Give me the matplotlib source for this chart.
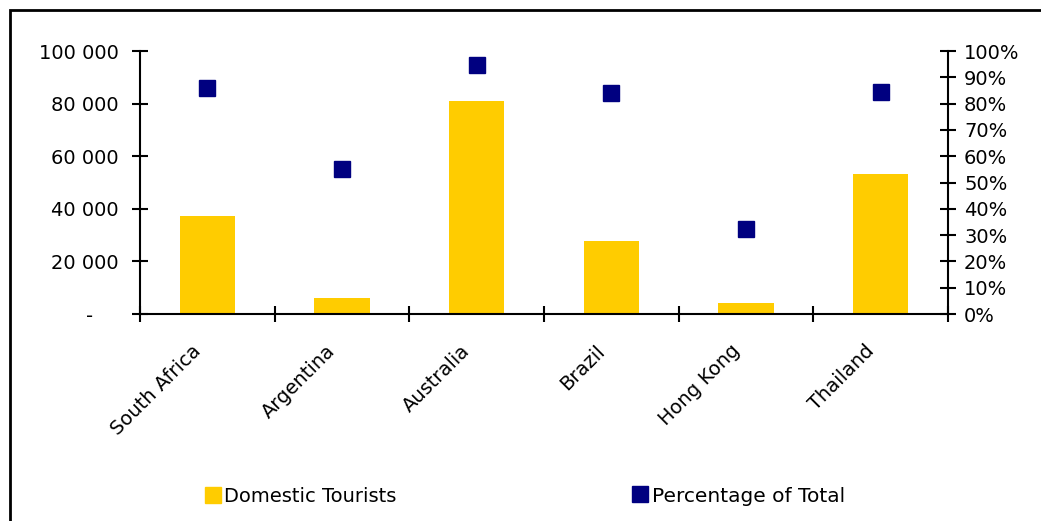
import numpy as np
import matplotlib.pyplot as plt
from matplotlib.patches import Rectangle
from matplotlib.lines import Line2D
from matplotlib.transforms import ScaledTranslation
from matplotlib.ticker import FuncFormatter, MultipleLocator, PercentFormatter

countries = ["South Africa", "Argentina", "Australia", "Brazil", "Hong Kong", "Thailand"]
domestic_tourists = [37300, 6100, 81000, 27800, 4200, 53200]
pct_of_total = [85.9, 55.1, 94.7, 84.0, 32.3, 84.6]

BAR_COLOR = "#FFCC00"
MARK_COLOR = "#000080"

plt.rcParams.update({
    "font.family": ["DejaVu Sans"],
    "font.size": 13,
})

fig = plt.figure(figsize=(10.41, 5.21), dpi=100)
ax = fig.add_axes([0.1345, 0.3973, 0.7762, 0.5048])
ax2 = ax.twinx()

x = np.arange(len(countries))
ax.bar(x, domestic_tourists, width=0.41, color=BAR_COLOR, zorder=2)
ax2.plot(x, pct_of_total, linestyle="none", marker="s", markersize=12,
         color=MARK_COLOR, zorder=3)

ax.set_xlim(-0.5, len(countries) - 0.5)
ax.set_ylim(0, 100000)
ax2.set_ylim(0, 100)

def thousands(v, pos):
    if v == 0:
        return "-    "
    return f"{int(v):,}".replace(",", " ")

ax.yaxis.set_major_locator(MultipleLocator(20000))
ax.yaxis.set_major_formatter(FuncFormatter(thousands))
ax2.yaxis.set_major_locator(MultipleLocator(10))
ax2.yaxis.set_major_formatter(PercentFormatter(decimals=0))

# category labels at centres, tick marks at the boundaries
ax.set_xticks(x)
ax.set_xticks(np.arange(-0.5, len(countries)), minor=True)
ax.tick_params(axis="x", which="major", length=0, pad=24, labelsize=14)
ax.tick_params(axis="x", which="minor", direction="inout", length=11, width=1.5)
ax.tick_params(axis="y", direction="inout", length=11, width=1.5, pad=10, labelsize=14)
ax2.tick_params(axis="y", direction="inout", length=11, width=1.5, pad=6, labelsize=14)

ax.set_xticklabels(countries, rotation=45, ha="right", va="top",
                   rotation_mode="anchor")
shift = ScaledTranslation(-16 / 100, 6 / 100, fig.dpi_scale_trans)
for lbl in ax.get_xticklabels():
    lbl.set_transform(lbl.get_transform() + shift)

for a in (ax, ax2):
    a.spines["top"].set_visible(False)
    for s in ("left", "right", "bottom"):
        a.spines[s].set_linewidth(1.5)
ax.spines["right"].set_visible(False)
ax2.spines["left"].set_visible(False)
ax2.spines["bottom"].set_visible(False)

# outer frame of the chart area
fig.patches.append(Rectangle((10 / 1041, -0.1), 2.0, 1.1 - 10 / 521,
                             transform=fig.transFigure, fill=False,
                             edgecolor="black", linewidth=2))

h1 = Line2D([], [], linestyle="none", marker="s", markersize=11,
            markerfacecolor=BAR_COLOR, markeredgecolor=BAR_COLOR)
h2 = Line2D([], [], linestyle="none", marker="s", markersize=11,
            markerfacecolor=MARK_COLOR, markeredgecolor=MARK_COLOR)
fig.legend([h1], ["Domestic Tourists"], loc="center left",
           bbox_to_anchor=(195 / 1041, 1 - 496 / 521), frameon=False,
           handletextpad=0.1, handlelength=1.0, fontsize=14, borderaxespad=0)
fig.legend([h2], ["Percentage of Total"], loc="center left",
           bbox_to_anchor=(622 / 1041, 1 - 496 / 521), frameon=False,
           handletextpad=0.1, handlelength=1.0, fontsize=14.5, borderaxespad=0)

fig.savefig("out.png", dpi=100)
